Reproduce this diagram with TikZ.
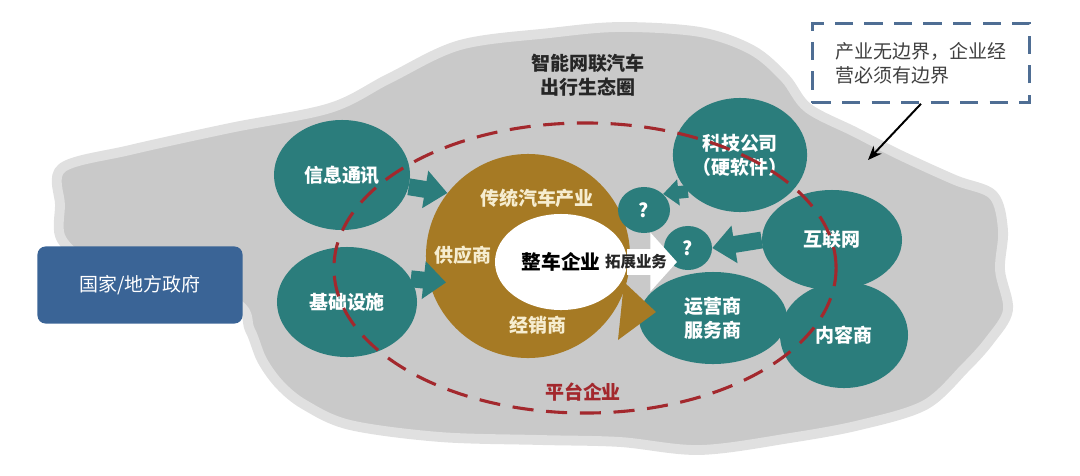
\documentclass[tikz,border=0pt]{standalone}
\usepackage{fontspec}
\setmainfont{Noto Sans CJK SC}
\usetikzlibrary{arrows.meta,shapes.geometric}

\definecolor{cloudgray}{HTML}{C9C9C9}
\definecolor{cloudrim}{HTML}{E0E0E0}
\definecolor{ecoteal}{HTML}{2B7D7C}
\definecolor{ringbrown}{HTML}{A67A24}
\definecolor{ringtext}{HTML}{F6EDD0}
\definecolor{govblue}{HTML}{3A6496}
\definecolor{platred}{HTML}{A3282D}
\definecolor{noteblue}{HTML}{4F6E94}

\begin{document}
\begin{tikzpicture}[x=0.025cm, y=-0.025cm,
  txt/.style={font=\fontsize{13.5}{17}\selectfont},
  eco/.style={ellipse, fill=ecoteal, text=white, inner sep=0pt, align=center, font=\fontsize{13.5}{17}\selectfont\bfseries},
  ringlbl/.style={text=ringtext, font=\fontsize{13.5}{17}\selectfont\bfseries},
  feed/.style={ecoteal, line width=12pt, -{Triangle[width=26pt,length=16pt]}}]
\useasboundingbox (0,0) rectangle (1080,475);
\fill[cloudgray, draw=cloudrim, line width=7pt, line join=round] plot[smooth cycle, tension=0.55] coordinates {
  (60,205) (62,168) (130,150) (230,128) (330,108) (390,78) (460,45) (550,33) (620,27) (700,32)
  (752,50) (785,78) (808,108) (855,132) (900,155) (955,180) (993,195) (1003,230) (1000,270)
  (1008,310) (990,340) (965,368) (925,405) (860,425) (790,438) (700,450) (620,442) (540,440)
  (440,437) (350,425) (305,405) (280,385) (262,360) (250,330) (230,300) (100,265) (62,240)};
\node[rounded corners=0.2cm, fill=govblue, text=white, minimum width=5.125cm, minimum height=1.925cm, txt] (gov) at (140,285) {国家/地方政府};
\node[align=center, font=\fontsize{13.5}{17}\selectfont\bfseries, text=black!85] (title) at (588,75) {智能网联汽车\\出行生态圈};
\node[circle, fill=ringbrown, minimum size=5.1cm] (ring) at (528,256) {};
\node[ellipse, fill=white, minimum width=3.3cm, minimum height=2.4cm, inner sep=0pt, font=\fontsize{14}{17}\selectfont\bfseries] (core) at (561,262) {整车企业};
\node[ringlbl] (trad) at (537,198) {传统汽车产业};
\node[ringlbl] (supply) at (463,255) {供应商};
\node[ringlbl] (dealer) at (538,325) {经销商};
\node[eco, minimum width=1.3cm, minimum height=1.15cm] (q1) at (644,210) {?};
\node[eco, minimum width=1.2cm, minimum height=1.1cm] (q2) at (688,248) {?};
\node[eco, minimum width=3.35cm, minimum height=2.85cm] (keji) at (740,155) {科技公司\\（硬软件）};
\node[eco, minimum width=3.5cm, minimum height=2.5cm] (hulian) at (832,240) {互联网};
\node[eco, minimum width=3.7cm, minimum height=2.3cm] (yunying) at (713,318) {运营商\\服务商};
\node[eco, minimum width=3.2cm, minimum height=2.65cm] (neirong) at (844,335) {内容商};
\node[eco, minimum width=3.4cm, minimum height=2.75cm] (xinxi) at (342,175) {信息通讯};
\node[eco, minimum width=3.5cm, minimum height=2.75cm] (jichu) at (347,302) {基础设施};
\fill[ringbrown] (624,282) -- (656,312) -- (618,340) -- cycle;
\draw[feed] (xinxi.-10) -- (ring.142);
\draw[feed] (jichu.20) -- ([xshift=12pt]ring.195);
\draw[feed] (hulian.west) -- (q2.east);
\draw[feed, line width=9pt, -{Triangle[width=18pt,length=11pt]}] (keji.215) -- (q1.40);
\coordinate (exptip) at (677,262);
\draw[white, line width=19pt, -{Triangle[width=41pt,length=19pt]}] (core.east) -- (exptip);
\node[font=\fontsize{11}{13}\selectfont\bfseries, text=black!85] (expand) at (636,262) {拓展业务};
\node[ellipse, draw=platred, line width=2.2pt, dash pattern=on 15pt off 9pt, minimum width=12.55cm, minimum height=7.25cm] (platform) at (585,268) {};
\node[text=platred, font=\fontsize{13.5}{17}\selectfont\bfseries] (platlbl) at (583,392) {平台企业};
\node[draw=noteblue, line width=1.8pt, dash pattern=on 13pt off 8pt, minimum width=5.425cm, minimum height=1.975cm, align=left, text=black!75, txt] (note) at (921,63) {产业无边界，企业经\\营必须有边界};
\coordinate (edge) at (868,160);
\draw[-{Stealth[length=10pt,width=8pt]}, line width=1.4pt] (note.south) -- (edge);
\end{tikzpicture}
\end{document}
